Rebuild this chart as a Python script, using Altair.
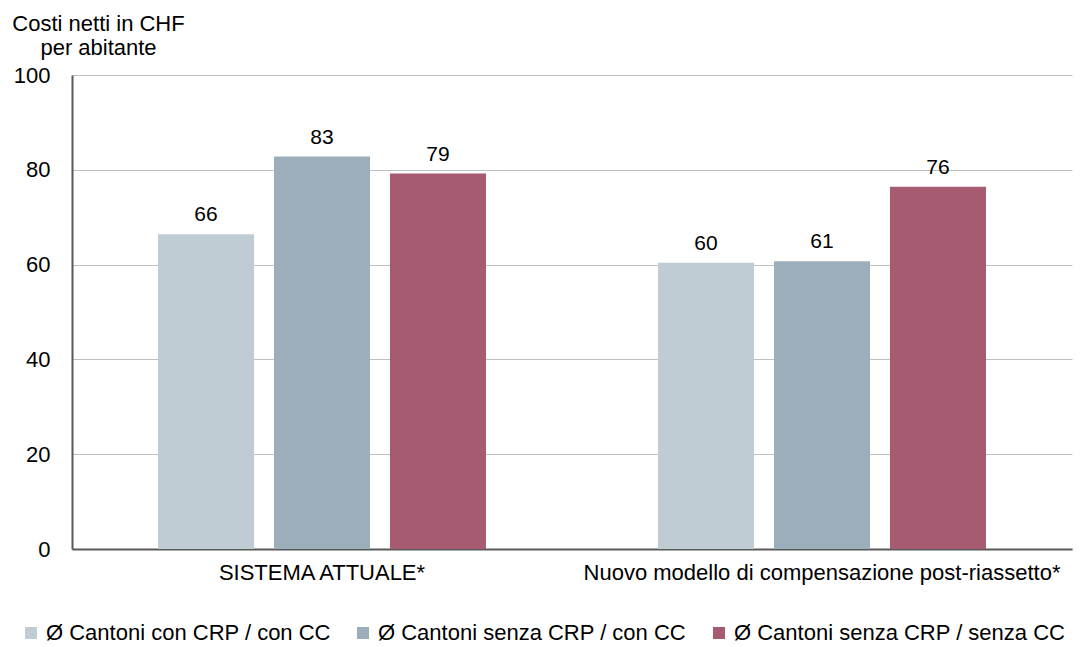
import altair as alt
import pandas as pd

# Net cost per inhabitant (CHF), by system and canton group
groups = ["SISTEMA ATTUALE*", "Nuovo modello di compensazione post-riassetto*"]
series = [
    "Ø Cantoni con CRP / con CC",
    "Ø Cantoni senza CRP / con CC",
    "Ø Cantoni senza CRP / senza CC",
]
values_attuale = [66.4, 82.8, 79.2]
values_nuovo = [60.4, 60.7, 76.4]
colors = ["#BFCCD4", "#9DAEBB", "#A65B71"]

rows = []
for g, vals in zip(groups, [values_attuale, values_nuovo]):
    for s, v in zip(series, vals):
        rows.append({"gruppo": g, "serie": s, "valore": v})
df = pd.DataFrame(rows)

FONT = "Liberation Sans"

base = alt.Chart(df).encode(
    x=alt.X(
        "gruppo:N",
        sort=groups,
        title=None,
        scale=alt.Scale(paddingInner=0.3, paddingOuter=0.15),
        axis=alt.Axis(
            labelAngle=0,
            labelFontSize=22,
            labelFont=FONT,
            labelColor="#000000",
            labelPadding=13,
            labelLimit=0,
            ticks=False,
            tickSize=0,
            domainColor="#595959",
            domainWidth=2,
            grid=False,
        ),
    ),
    xOffset=alt.XOffset(
        "serie:N",
        sort=series,
        scale=alt.Scale(paddingInner=0.172, paddingOuter=0.095),
    ),
    y=alt.Y(
        "valore:Q",
        scale=alt.Scale(domain=[0, 100], nice=False),
        axis=alt.Axis(
            values=[0, 20, 40, 60, 80, 100],
            title=["Costi netti in CHF", "per abitante"],
            titleAngle=0,
            titleAlign="center",
            titleBaseline="alphabetic",
            titleX=26,
            titleY=-45,
            titleFontSize=22,
            titleFont=FONT,
            titleFontWeight="normal",
            titleColor="#000000",
            titleLineHeight=24,
            labelFontSize=22,
            labelFont=FONT,
            labelColor="#000000",
            labelPadding=22,
            ticks=False,
            tickSize=0,
            domainColor="#595959",
            domainWidth=2,
            gridColor="#BFBFBF",
            gridWidth=1,
        ),
    ),
)

bars = base.mark_bar().encode(
    color=alt.Color(
        "serie:N",
        sort=series,
        scale=alt.Scale(domain=series, range=colors),
        legend=alt.Legend(
            title=None,
            orient="none",
            direction="horizontal",
            legendX=-52,
            legendY=547,
            padding=0,
            symbolType="square",
            symbolSize=144,
            symbolStrokeWidth=0,
            labelFontSize=22,
            labelFont=FONT,
            labelColor="#000000",
            labelOffset=4,
            labelLimit=0,
            columnPadding=21,
        ),
    )
)

labels = base.mark_text(
    baseline="alphabetic", dy=-13, fontSize=21, font=FONT, color="#000000"
).encode(text=alt.Text("valore:Q", format=".0f"))

chart = (
    alt.layer(bars, labels)
    .properties(
        width=1000,
        height=474,
        autosize=alt.AutoSizeParams(type="none"),
        padding={"left": 72, "top": 75, "right": 11, "bottom": 98},
        background="white",
    )
    .configure_view(stroke=None)
)

chart.save("out.html", embed_options={"renderer": "svg", "actions": False})
